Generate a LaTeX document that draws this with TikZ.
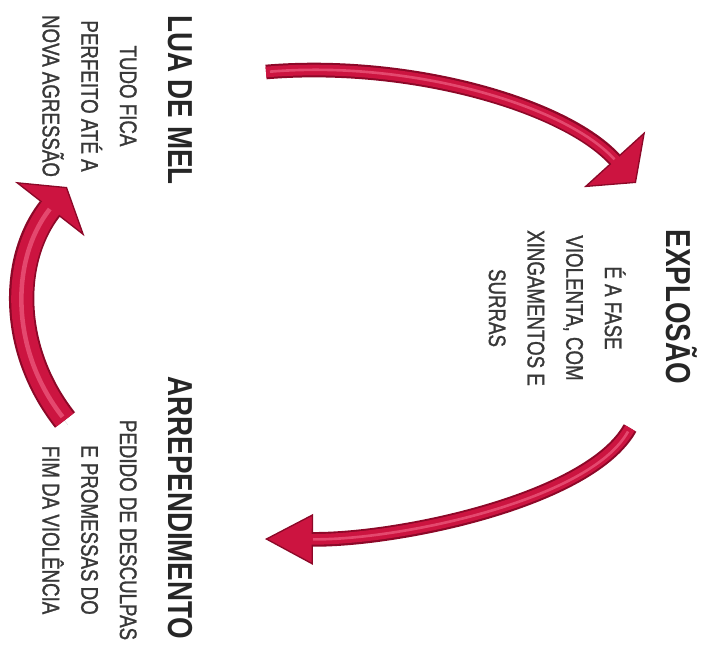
\documentclass[tikz,border=0pt]{standalone}
\usepackage{fontspec}
\usetikzlibrary{arrows.meta}
\newfontfamily\cycfont{Liberation Sans}[FakeStretch=0.8]
\newfontfamily\cyctext{Liberation Sans}[FakeStretch=0.78,FakeBold=1.2]
\definecolor{crim}{RGB}{204,20,64}
\definecolor{crimdark}{RGB}{140,8,40}
\definecolor{crimlite}{RGB}{228,72,110}

\tikzset{
fase/.style={font=\cycfont\bfseries\fontsize{26}{30}\selectfont,text=black!85,
  rotate=-90,inner sep=0pt,anchor=base},
texto/.style={font=\cyctext\fontsize{18}{29}\selectfont,text=black!78,
  rotate=-90,inner sep=0pt,align=center,anchor=north},
seta/.style 2 args={draw=crimdark,line width=#2,
  preaction={draw=black!12,-,shorten >=#1,transform canvas={shift={(3,5)}}},
  postaction={draw=crim,line width=#2-3pt,-,shorten >=#1-2pt},
  postaction={draw=crimlite,line width=0.18*#2,-,shorten >=#1,shorten <=3pt}}}

\begin{document}
\begin{tikzpicture}
  [x=0.75pt,y=-0.75pt]
  \useasboundingbox (0,0) rectangle (712,649);
  % fases do ciclo
  \node[fase] (lua) at (168,100) {LUA DE MEL};
  \node[texto] (lual) at (137,96) {TUDO FICA\\PERFEITO ATÉ A\\NOVA AGRESSÃO};
  \node[fase] (expl) at (666,307) {EXPLOSÃO};
  \node[texto] (expll) at (626,308) {É A FASE\\VIOLENTA, COM\\XINGAMENTOS E\\SURRAS};
  \node[fase] (arrep) at (168,508) {ARREPENDIMENTO};
  \node[texto] (arrepl) at (137,530) {PEDIDO DE DESCULPAS\\E PROMESSAS DO\\FIM DA VIOLÊNCIA};
  % setas
  \coordinate (s1a) at (266,72);
  \coordinate (s1b) at (636,183);
  \coordinate (s2a) at (630,428);
  \coordinate (s2b) at (265,539);
  \coordinate (s3a) at (65,420);
  \coordinate (s3b) at (67,187);
  \draw[seta={24pt}{11pt},-{Triangle[length=24pt,width=62pt,color=crimdark,fill=crim,line width=1pt]}]
    (s1a) .. controls (410,60) and (565,105) .. (s1b);
  \draw[seta={36pt}{11pt},-{Triangle[length=36pt,width=38pt,color=crimdark,fill=crim,line width=1pt]}]
    (s2a) .. controls (590,500) and (400,540) .. (s2b);
  \draw[seta={21pt}{19pt},-{Triangle[length=21pt,width=66pt,color=crimdark,fill=crim,line width=1pt]}]
    (s3a) .. controls (10,350) and (10,260) .. (s3b);
\end{tikzpicture}
\end{document}
